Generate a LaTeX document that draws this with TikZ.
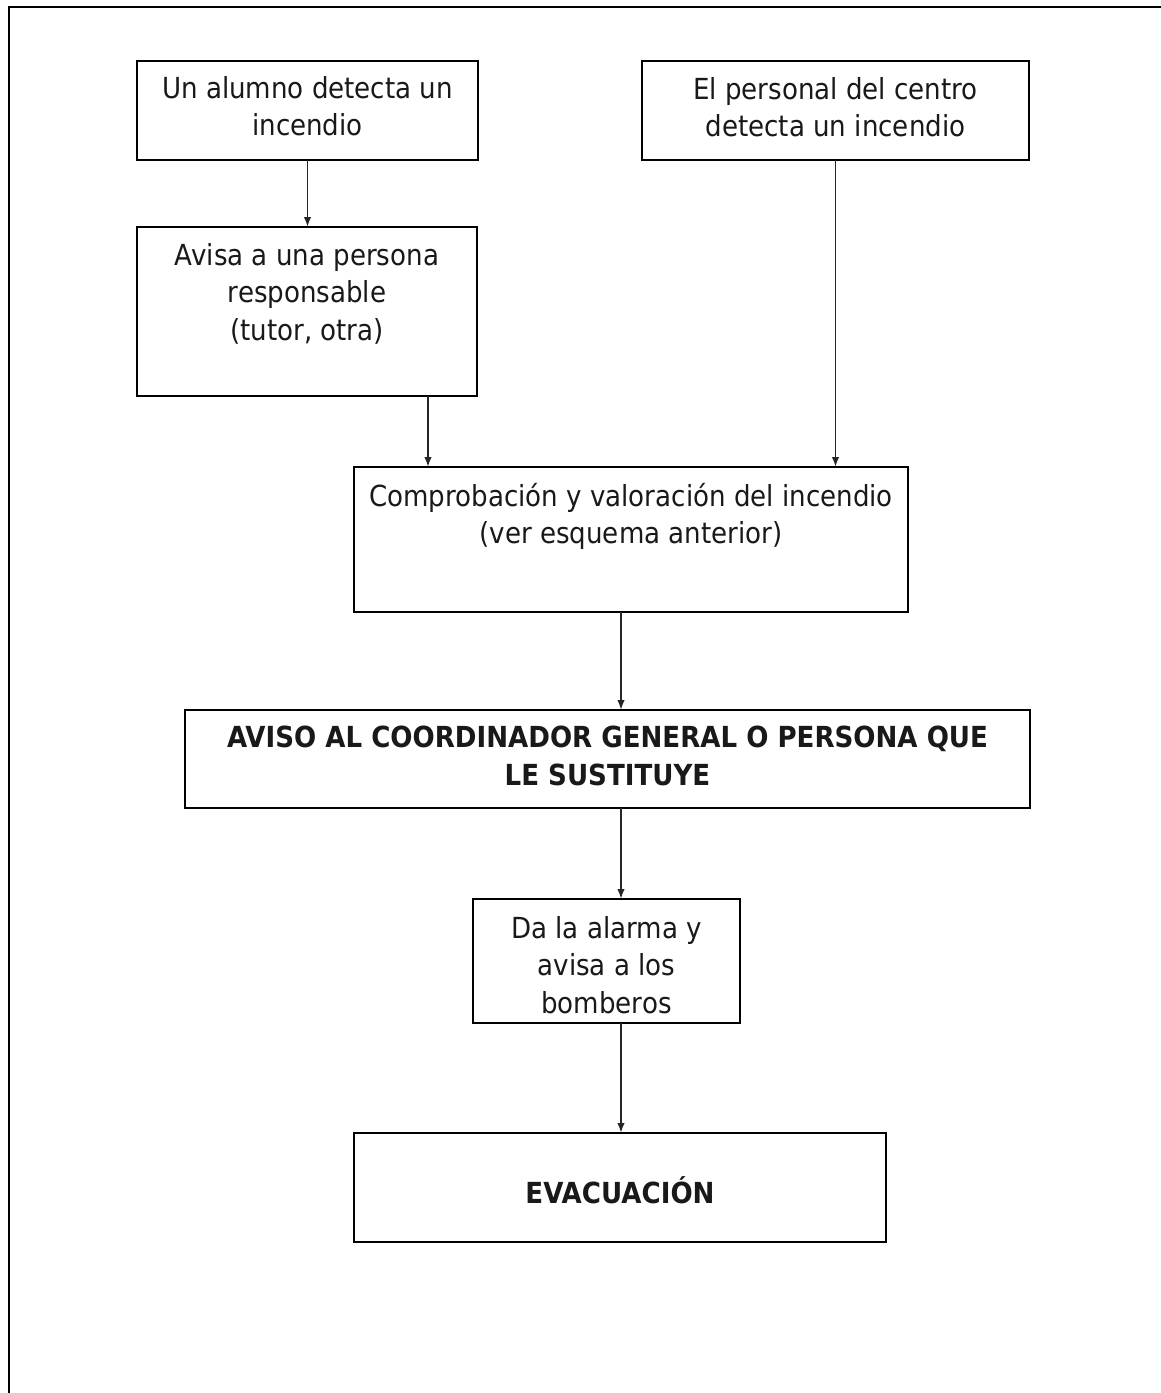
\documentclass[tikz,border=0pt]{standalone}
\usepackage{fontspec}
\setmainfont{DejaVu Sans}[FakeStretch=0.9]
\usetikzlibrary{arrows.meta}
\begin{document}
\begin{tikzpicture}[x=1pt,y=-1pt,
  box/.style={draw=black, line width=2pt, inner sep=0pt, outer sep=0pt, anchor=north west},
  txt/.style={inner sep=0pt, outer sep=0pt, anchor=north, align=center, text=black!90,
    font=\fontsize{29}{37.5}\selectfont, execute at begin node={\rule{0pt}{24pt}}},
  btxt/.style={txt, font=\fontsize{29}{37.5}\selectfont\bfseries},
  arr/.style={draw=black!85, line width=1.7pt, -{Latex[length=10pt,width=7.5pt]}}]
\useasboundingbox (0,0) rectangle (1161,1393);
% outer frame (only left and top visible)
\draw[line width=2pt] (9,1400) -- (9,7) -- (1170,7);
% boxes
\node[box, minimum width=341pt, minimum height=99pt] (A) at (137,61) {};
\node[box, minimum width=387pt, minimum height=99pt] (B) at (642,61) {};
\node[box, minimum width=340pt, minimum height=169pt] (C) at (137,227) {};
\node[box, minimum width=554pt, minimum height=145pt] (D) at (354,467) {};
\node[box, minimum width=845pt, minimum height=98pt] (E) at (185,710) {};
\node[box, minimum width=267pt, minimum height=124pt] (F) at (473,899) {};
\node[box, minimum width=532pt, minimum height=109pt] (G) at (354,1133) {};
% texts
\node[txt] (At) at (307.5,76) {Un alumno detecta un\\incendio};
\node[txt] (Bt) at (835.5,77) {El personal del centro\\detecta un incendio};
\node[txt] (Ct) at (307,243) {Avisa a una persona\\responsable\\(tutor, otra)};
\node[txt] (Dt) at (631,483) {Comprobación y valoración del incendio\\(ver esquema anterior)};
\node[btxt] (Et) at (607.5,726) {AVISO AL COORDINADOR GENERAL O PERSONA QUE\\LE SUSTITUYE};
\node[txt] (Ft) at (606.5,916) {Da la alarma y\\avisa a los\\bomberos};
\node[btxt] (Gt) at (620,1177) {EVACUACIÓN};
% connectors
\coordinate (k1) at (428,0);
\coordinate (sp) at (621,0);
\draw[arr] (A.south) -- (A.south |- C.north);
\draw[arr] (C.south -| k1) -- (D.north -| k1);
\draw[arr] (B.south) -- (B.south |- D.north);
\draw[arr] (D.south -| sp) -- (E.north -| sp);
\draw[arr] (E.south -| sp) -- (F.north -| sp);
\draw[arr] (F.south -| sp) -- (G.north -| sp);
\end{tikzpicture}
\end{document}
